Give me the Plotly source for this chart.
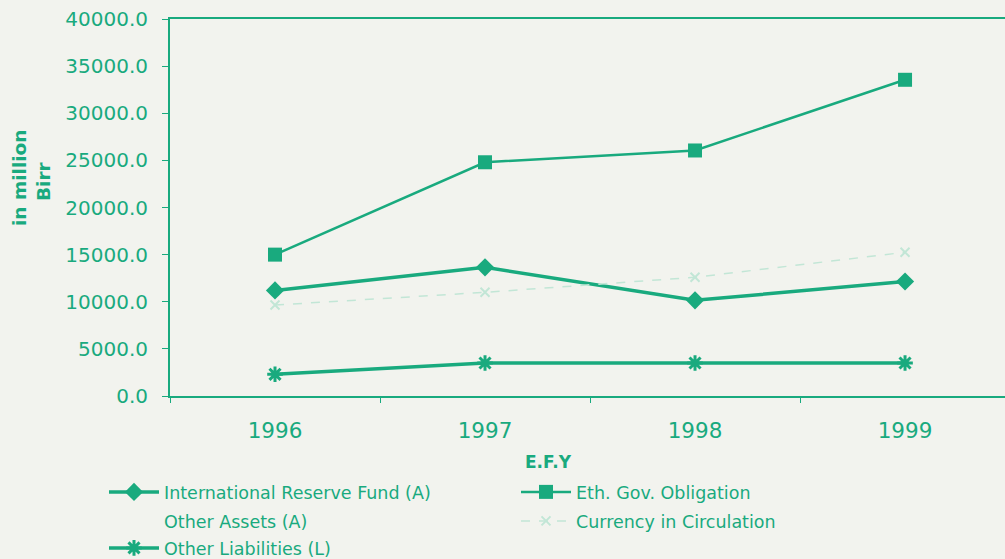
import plotly.graph_objects as go

years = ["1996", "1997", "1998", "1999"]
irf = [11200, 13650, 10150, 12150]
eth_gov = [15000, 24800, 26050, 33550]
other_assets = [None, None, None, None]
currency = [9650, 11000, 12600, 15250]
other_liab = [2300, 3500, 3500, 3500]
y_ticks = [0, 5000, 10000, 15000, 20000, 25000, 30000, 35000, 40000]

G = "#19aa7e"
LIGHT = "#c2e6d6"
BG = "#f2f3ee"
FONT = "DejaVu Sans"
W, H = 1005, 559

fig = go.Figure()
fig.add_trace(go.Scatter(x=years, y=irf, name="International Reserve Fund (A)", mode="lines+markers",
                         line=dict(color=G, width=3.5), marker=dict(symbol="diamond", size=14, color=G),
                         legend="legend"))
fig.add_trace(go.Scatter(x=years, y=eth_gov, name="Eth. Gov. Obligation", mode="lines+markers",
                         line=dict(color=G, width=2.5), marker=dict(symbol="square", size=14, color=G),
                         legend="legend2"))
fig.add_trace(go.Scatter(x=years, y=other_assets, name="Other Assets (A)", mode="lines",
                         line=dict(color="rgba(0,0,0,0)", width=2), legend="legend3"))
fig.add_trace(go.Scatter(x=years, y=currency, name="Currency in Circulation", mode="lines+markers",
                         line=dict(color=LIGHT, width=1.5, dash="dash"),
                         marker=dict(symbol="x-thin-open", size=9, line=dict(color=LIGHT, width=2)),
                         legend="legend4"))
fig.add_trace(go.Scatter(x=years, y=other_liab, name="Other Liabilities (L)", mode="lines+markers",
                         line=dict(color=G, width=3.5),
                         marker=dict(symbol="asterisk-open", size=13, color=G, line=dict(color=G, width=3)),
                         legend="legend5"))


def leg(xpx, ypx):
    return dict(xref="container", yref="container", x=xpx / W, y=1 - ypx / H,
                xanchor="left", yanchor="middle", itemwidth=50, bgcolor="rgba(0,0,0,0)",
                font=dict(size=17.5, color=G, family=FONT), tracegroupgap=0)


fig.update_layout(
    width=W, height=H,
    paper_bgcolor=BG, plot_bgcolor=BG,
    margin=dict(l=170, r=0, t=19, b=163, autoexpand=False),
    font=dict(family=FONT, color=G, size=16),
    showlegend=True,
    legend=leg(104, 492),
    legend2=leg(516, 492),
    legend3=leg(104, 521),
    legend4=leg(516, 521),
    legend5=leg(104, 548),
    xaxis=dict(type="category", range=[-0.5, 3.476], showgrid=False, zeroline=False, automargin=False,
               showline=True, linecolor=G, linewidth=2, mirror=True, tickangle=0,
               ticks="outside", tickson="boundaries", ticklen=5, tickcolor=G,
               tickfont=dict(size=21.5, color=G), ticklabelstandoff=14),
    yaxis=dict(range=[0, 40000], tickvals=y_ticks, tickformat=".1f", showgrid=False, zeroline=False,
               automargin=False, showline=True, linecolor=G, linewidth=2,
               ticks="outside", ticklen=6, tickcolor=G,
               tickfont=dict(size=20, color=G), ticklabelstandoff=10),
)

fig.add_annotation(text="<b>E.F.Y</b>", xref="paper", yref="paper", x=(548 - 170) / 835, y=-(462 - 396) / 377,
                   xanchor="center", yanchor="middle",
                   showarrow=False, font=dict(size=17, color=G, family=FONT))
fig.add_annotation(text="<b>in million</b>", xref="paper", yref="paper", x=-(170 - 19) / 835, y=(396 - 178) / 377,
                   xanchor="center", yanchor="middle",
                   textangle=-90, showarrow=False, font=dict(size=18.5, color=G, family=FONT))
fig.add_annotation(text="<b>Birr</b>", xref="paper", yref="paper", x=-(170 - 43) / 835, y=(396 - 181) / 377,
                   xanchor="center", yanchor="middle",
                   textangle=-90, showarrow=False, font=dict(size=18.5, color=G, family=FONT))

fig.write_html("out.html", config={"displayModeBar": False},
               post_script="document.body.style.margin='0';")
